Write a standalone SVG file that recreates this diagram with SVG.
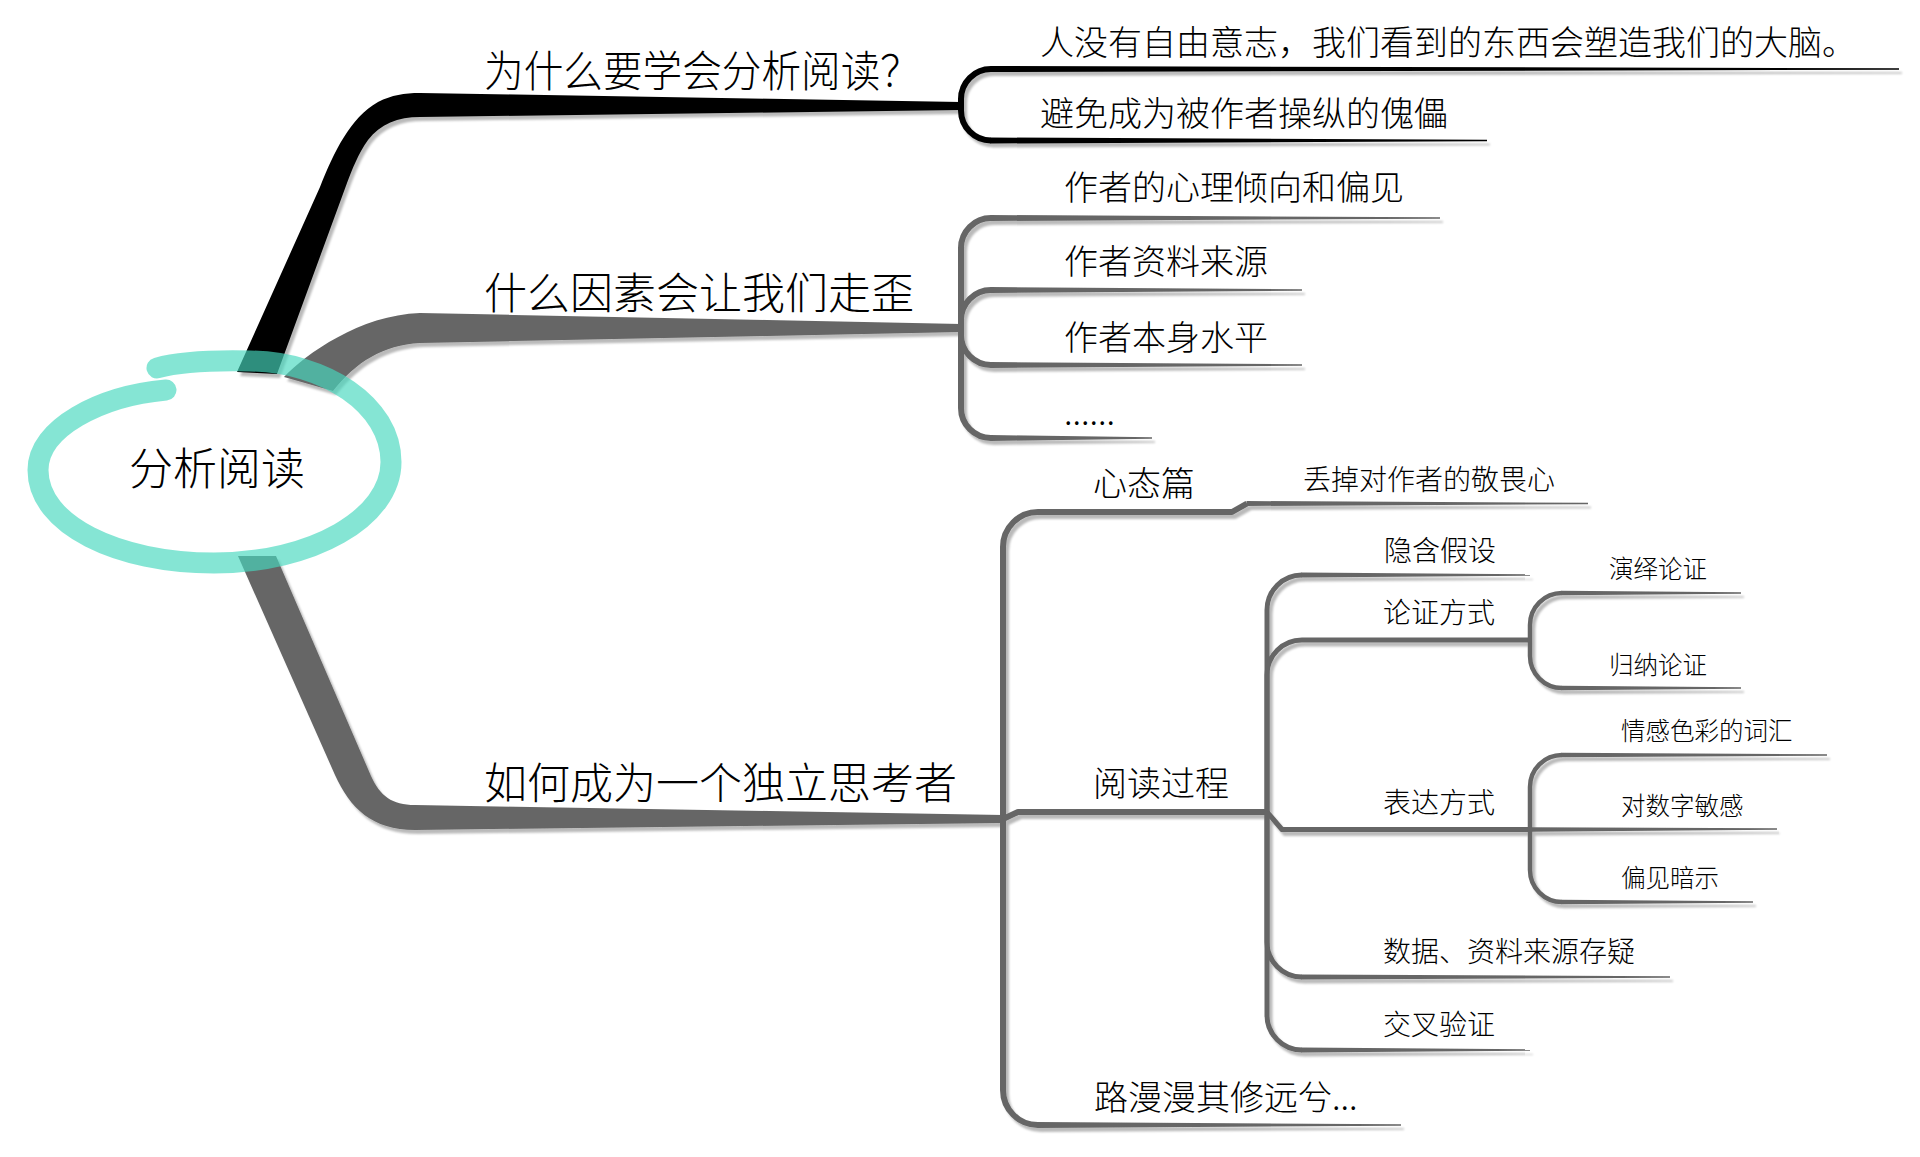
<svg xmlns="http://www.w3.org/2000/svg" width="1920" height="1157" viewBox="0 0 1920 1157">
<defs>
<filter id="sh" x="-5%" y="-5%" width="115%" height="115%">
<feDropShadow dx="3" dy="4" stdDeviation="0.9" flood-color="#000" flood-opacity="0.27"/>
</filter>
<style>
text{font-family:"Noto Sans CJK SC","Noto Sans",sans-serif;font-weight:300;fill:#000}
.t1{font-size:43px}
.t2{font-size:34px}
.t3{font-size:28px}
.t4{font-size:24.5px}
.k{fill:none;stroke:#000;stroke-linecap:butt;stroke-linejoin:round}
.g{fill:none;stroke:#666;stroke-linecap:butt;stroke-linejoin:round}
.kf{fill:#000}
.gf{fill:#666}
.w6{stroke-width:6}
.w5{stroke-width:5}
.w4{stroke-width:4.5}
</style>
</defs>
<rect width="1920" height="1157" fill="#fff"/>
<g id="connectors" filter="url(#sh)">
<!-- main branches -->
<path class="kf" d="M237,372 L320,187 C334,152 350,118 378,102 C392,95 404,93 420,93 L961,102 L961,110 L420,117 C398,117 380,124 368,140 C358,154 352,170 347,183 L277,374 Z"/>
<path class="gf" d="M284,377 C306,354 360,315 420,313 L961,324 L961,332 L420,343 C383,345 356,362 333,391 Z"/>
<path class="gf" d="M238,556 L335,775 C350,808 372,830 415,830 L1003,823 L1003,815 L415,805 C392,805 380,796 371,776 L276,556 Z"/>
<!-- branch 1 children -->
<path class="k w6" d="M961,106 V99 A30,30 0 0 1 991,69"/>
<polygon class="kf" points="990.5,66 1899,68.3 1899,69.7 990.5,72"/>
<path class="k w6" d="M961,106 V110.5 A30,30 0 0 0 991,140.5"/>
<polygon class="kf" points="990.5,137.5 1487,139.8 1487,141.2 990.5,143.5"/>
<!-- branch 2 children -->
<path class="g w6" d="M961,328 V248 A30,30 0 0 1 991,218"/>
<polygon class="gf" points="990.5,215 1440,217.3 1440,218.7 990.5,221"/>
<path class="g w6" d="M961,328 V320 A30,30 0 0 1 991,290"/>
<polygon class="gf" points="990.5,287 1302,289.3 1302,290.7 990.5,293"/>
<path class="g w6" d="M961,328 V335 A30,30 0 0 0 991,365"/>
<polygon class="gf" points="990.5,362 1302,364.3 1302,365.7 990.5,368"/>
<path class="g w6" d="M961,328 V408 A30,30 0 0 0 991,438"/>
<polygon class="gf" points="990.5,435 1152,437.3 1152,438.7 990.5,441"/>
<!-- branch 3 children -->
<path class="g w6" d="M1003,819 V547 A35,35 0 0 1 1038,512 H1232 L1247,503.5"/>
<polygon class="gf" points="1246.5,501 1588,502.8 1588,504.2 1246.5,506"/>
<path class="g w6" d="M1003,819 L1018,812 H1267"/>
<path class="g w6" d="M1003,819 V1090 A35,35 0 0 0 1038,1125"/>
<polygon class="gf" points="1037.5,1122 1401,1124.3 1401,1125.7 1037.5,1128"/>
<!-- reading process children -->
<path class="g w5" d="M1267,812 V610 A35,35 0 0 1 1302,575"/>
<polygon class="gf" points="1301.5,572.5 1530,574.3 1530,575.7 1301.5,577.5"/>
<path class="g w5" d="M1267,812 V675 A35,35 0 0 1 1302,640 H1530"/>
<path class="g w5" d="M1267,812 L1282,829.5 H1530"/>
<path class="g w5" d="M1267,812 V942 A35,35 0 0 0 1302,977"/>
<polygon class="gf" points="1301.5,974.5 1670,976.3 1670,977.7 1301.5,979.5"/>
<path class="g w5" d="M1267,812 V1015 A35,35 0 0 0 1302,1050"/>
<polygon class="gf" points="1301.5,1047.5 1530,1049.3 1530,1050.7 1301.5,1052.5"/>
<!-- argument children -->
<path class="g w4" d="M1530,640 V625 A32,32 0 0 1 1562,593"/>
<polygon class="gf" points="1561.5,590.8 1741,592.3 1741,593.7 1561.5,595.2"/>
<path class="g w4" d="M1530,640 V656 A32,32 0 0 0 1562,688"/>
<polygon class="gf" points="1561.5,685.8 1741,687.3 1741,688.7 1561.5,690.2"/>
<!-- expression children -->
<path class="g w4" d="M1530,829.5 V787 A32,32 0 0 1 1562,755"/>
<polygon class="gf" points="1561.5,752.8 1827,754.3 1827,755.7 1561.5,757.2"/>
<polygon class="gf" points="1529.5,827.2 1777,828.3 1777,829.7 1529.5,831.8"/>
<path class="g w4" d="M1530,829.5 V870 A32,32 0 0 0 1562,902"/>
<polygon class="gf" points="1561.5,899.8 1753,901.3 1753,902.7 1561.5,904.2"/>
</g>
<g id="root">
<path d="M166,390 C100,396 38,428 38,470 C38,525 118,563 214,563 C312,563 391,518 391,462 C391,405 325,362 250,361 C205,360 175,363 157,368" fill="none" stroke="rgb(70,215,190)" stroke-opacity="0.66" stroke-width="21" stroke-linecap="round"/>
<text class="t1" x="129" y="485" style="font-size:44px">分析阅读</text>
</g>
<g id="n-why"><text class="t1" x="484" y="87" textLength="436" lengthAdjust="spacingAndGlyphs">为什么要学会分析阅读？</text></g>
<g id="n-why-1"><text class="t2" x="1040" y="55">人没有自由意志，我们看到的东西会塑造我们的大脑。</text></g>
<g id="n-why-2"><text class="t2" x="1040" y="126">避免成为被作者操纵的傀儡</text></g>
<g id="n-factors"><text class="t1" x="484" y="309">什么因素会让我们走歪</text></g>
<g id="n-factors-1"><text class="t2" x="1064" y="200">作者的心理倾向和偏见</text></g>
<g id="n-factors-2"><text class="t2" x="1064" y="274">作者资料来源</text></g>
<g id="n-factors-3"><text class="t2" x="1064" y="350">作者本身水平</text></g>
<g id="n-factors-4"><text class="t2" x="1064" y="425">......</text></g>
<g id="n-how"><text class="t1" x="484" y="799">如何成为一个独立思考者</text></g>
<g id="n-mind"><text class="t2" x="1093" y="496">心态篇</text></g>
<g id="n-mind-1"><text class="t3" x="1303" y="490">丢掉对作者的敬畏心</text></g>
<g id="n-process"><text class="t2" x="1093" y="796">阅读过程</text></g>
<g id="n-assume"><text class="t3" x="1384" y="561">隐含假设</text></g>
<g id="n-argue"><text class="t3" x="1383" y="623">论证方式</text></g>
<g id="n-deduct"><text class="t4" x="1609" y="578">演绎论证</text></g>
<g id="n-induct"><text class="t4" x="1609" y="674">归纳论证</text></g>
<g id="n-express"><text class="t3" x="1383" y="813">表达方式</text></g>
<g id="n-emotion"><text class="t4" x="1621" y="740">情感色彩的词汇</text></g>
<g id="n-numbers"><text class="t4" x="1621" y="815">对数字敏感</text></g>
<g id="n-bias"><text class="t4" x="1621" y="887">偏见暗示</text></g>
<g id="n-data"><text class="t3" x="1383" y="962">数据、资料来源存疑</text></g>
<g id="n-cross"><text class="t3" x="1383" y="1035">交叉验证</text></g>
<g id="n-road"><text class="t2" x="1094" y="1110">路漫漫其修远兮...</text></g>
</svg>
